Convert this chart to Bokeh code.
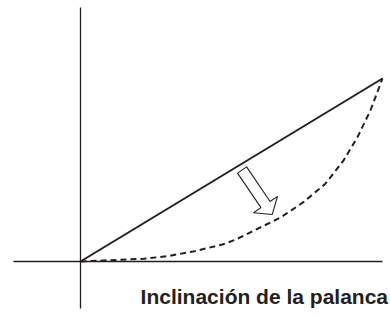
import numpy as np
from bokeh.plotting import figure
from bokeh.models import Range1d
from bokeh.core.properties import value
from bokeh.embed import file_html
from bokeh.resources import INLINE

# --- data (abstract units: lever inclination 0..1, output 0..1) ---
linear_x = [0.0, 1.0]
linear_y = [0.0, 1.0]

curve_x = [0.0, 0.209, 0.288, 0.374, 0.470, 0.513, 0.662, 0.738, 0.811, 0.871, 0.917, 0.960, 1.0]
curve_y = [0.0, 0.015, 0.029, 0.055, 0.093, 0.119, 0.240, 0.324, 0.425, 0.552, 0.679, 0.825, 1.0]

axis_x_extent = [-0.222, 1.0]
axis_y_extent = [-0.257, 1.388]

arrow_tail = (0.535, 0.500)
arrow_tip = (0.635, 0.257)

label_text = ["Inclinación de la palanca"]
label_x = [0.199]
label_y = [-0.191]

# --- figure ---
W, H = 390, 321
x0, x1 = -0.2649, 1.0265
y0, y1 = -0.3279, 1.4262
sx = W / (x1 - x0)
sy = H / (y1 - y0)

p = figure(width=W, height=H, output_backend="svg", toolbar_location=None,
           x_range=Range1d(x0, x1), y_range=Range1d(y0, y1),
           min_border=0, min_border_left=0, min_border_right=0,
           min_border_top=0, min_border_bottom=0)
p.axis.visible = False
p.grid.visible = False
p.outline_line_color = None
p.background_fill_color = "white"
p.border_fill_color = "white"

# axes lines
p.line(axis_x_extent, [0, 0], line_color="#231f20", line_width=1.3)
p.line([0, 0], axis_y_extent, line_color="#231f20", line_width=1.3)

# linear response
p.line(linear_x, linear_y, line_color="#231f20", line_width=2)

# progressive response (dashed)
p.line(curve_x, curve_y, line_color="#231f20", line_width=2, line_dash="6 4")

# hollow block arrow
tail = np.array([arrow_tail[0] * sx, arrow_tail[1] * sy])
tip = np.array([arrow_tip[0] * sx, arrow_tip[1] * sy])
d = tip - tail
d = d / np.linalg.norm(d)
n = np.array([-d[1], d[0]])
shaft_w, head_w, head_len = 11.0, 29.0, 12.0
base = tip - d * head_len
pts = [tail + n * shaft_w / 2, base + n * shaft_w / 2, base + n * head_w / 2, tip,
       base - n * head_w / 2, base - n * shaft_w / 2, tail - n * shaft_w / 2]
ax = [pt[0] / sx for pt in pts]
ay = [pt[1] / sy for pt in pts]
p.patch(ax, ay, fill_color="white", line_color="#231f20", line_width=1.1)

# label
p.text(label_x, label_y, text=label_text, text_font=value("Liberation Sans"),
       text_font_style="bold", text_font_size="21px", text_color="#231f20",
       text_align="left", text_baseline="alphabetic")

open("out.html", "w").write(file_html(p, INLINE))
